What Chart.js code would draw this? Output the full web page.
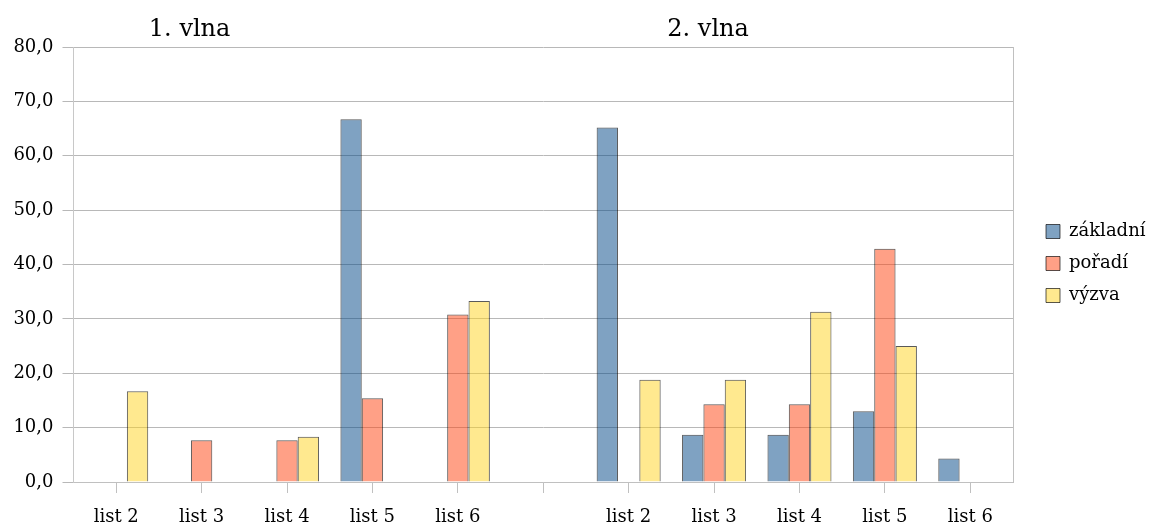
<!DOCTYPE html>
<html>
<head>
<meta charset="utf-8">
<style>
  html, body { margin: 0; padding: 0; background: #fff; }
  #wrap { width: 1154px; height: 524px; }
</style>
</head>
<body>
<div id="wrap">
    <canvas id="myChart" width="1154" height="524"></canvas>
</div>

<script src="https://cdn.jsdelivr.net/npm/chart.js"></script>

<script>
    // two survey waves side by side, separated by one empty slot
    const labels = ['list 2', 'list 3', 'list 4', 'list 5', 'list 6', '',
                    'list 2', 'list 3', 'list 4', 'list 5', 'list 6'];
    const waveTitles = ['1. vlna', '2. vlna'];
    const seriesNames = ['základní', 'pořadí', 'výzva'];

    const zakladni = [null, null, null, 66.7, null, null, 65.2, 8.7, 8.7, 13.0, 4.3];
    const poradi   = [null, 7.7, 7.7, 15.4, 30.8, null, null, 14.3, 14.3, 42.9, null];
    const vyzva    = [16.7, null, 8.3, null, 33.3, null, 18.8, 18.8, 31.3, 25.0, null];

    const yTicks = [0, 10, 20, 30, 40, 50, 60, 70, 80];

    const serif = '"DejaVu Serif", "Liberation Serif", serif';

    const fills = ['rgba(0,69,134,0.5)', 'rgba(255,66,14,0.5)', 'rgba(255,211,32,0.5)'];

    function makeSet(name, data, i) {
        return {
            label: name,
            data: data,
            backgroundColor: fills[i],
            borderColor: 'rgba(0,0,0,0.65)',
            borderWidth: 1,
            categoryPercentage: 0.75,
            barPercentage: 1.0
        };
    }

    // fixed width for the legend column, items nudged right and up
    const legendBox = {
        id: 'legendBox',
        beforeInit(chart) {
            const lg = chart.legend;
            if (!lg) return;
            const fit = lg.fit;
            lg.fit = function () {
                fit.call(this);
                if (!this.isHorizontal()) this.width = 141;
            };
            const draw = lg.draw;
            lg.draw = function () {
                const c = this.ctx;
                c.save();
                c.translate(19, -22);
                draw.call(this);
                c.restore();
            };
        }
    };

    // wave captions above the plot and the frame on the right side
    const extras = {
        id: 'extras',
        afterDraw(chart) {
            const c = chart.ctx;
            const x = chart.scales.x;
            const a = chart.chartArea;
            c.save();
            c.strokeStyle = '#c0c0c0';
            c.lineWidth = 1;
            c.beginPath();
            c.moveTo(Math.round(a.right) + 0.5, a.top);
            c.lineTo(Math.round(a.right) + 0.5, a.bottom);
            c.stroke();
            c.fillStyle = '#000';
            c.font = '24px ' + serif;
            c.textAlign = 'center';
            c.textBaseline = 'alphabetic';
            c.fillText(waveTitles[0], x.getPixelForValue(1) - 12, a.top - 11);
            c.fillText(waveTitles[1], x.getPixelForValue(7) - 6, a.top - 11);
            c.restore();
        }
    };

    const ctx = document.getElementById('myChart');

    new Chart(ctx, {
        type: 'bar',
        data: {
            labels: labels,
            datasets: [
                makeSet(seriesNames[0], zakladni, 0),
                makeSet(seriesNames[1], poradi, 1),
                makeSet(seriesNames[2], vyzva, 2)
            ]
        },
        options: {
            responsive: false,
            animation: false,
            layout: { padding: { top: 47, right: 0, left: 0, bottom: 0 } },
            plugins: {
                legend: {
                    position: 'right',
                    labels: {
                        boxWidth: 14,
                        boxHeight: 14,
                        padding: 14,
                        color: '#000',
                        font: { family: serif, size: 18 }
                    }
                },
                tooltip: { enabled: false }
            },
            scales: {
                x: {
                    offset: true,
                    afterFit(axis) { axis.height = 42; },
                    grid: {
                        display: true,
                        drawOnChartArea: false,
                        offset: false,
                        tickLength: 11,
                        color: '#c0c0c0'
                    },
                    border: { color: '#c0c0c0' },
                    ticks: {
                        color: '#000',
                        font: { family: serif, size: 18 },
                        padding: 14,
                        maxRotation: 0,
                        autoSkip: false
                    }
                },
                y: {
                    min: 0,
                    max: 80,
                    afterFit(axis) { axis.width = 73.5; },
                    afterBuildTicks(axis) {
                        axis.ticks = yTicks.map(v => ({ value: v }));
                    },
                    grid: { color: '#b8b8b8', tickLength: 11 },
                    border: { color: '#c8c8c8' },
                    ticks: {
                        color: '#000',
                        font: { family: serif, size: 18 },
                        padding: 9,
                        callback: v => v.toFixed(1).replace('.', ',')
                    }
                }
            }
        },
        plugins: [legendBox, extras]
    });
</script>
</body>
</html>
